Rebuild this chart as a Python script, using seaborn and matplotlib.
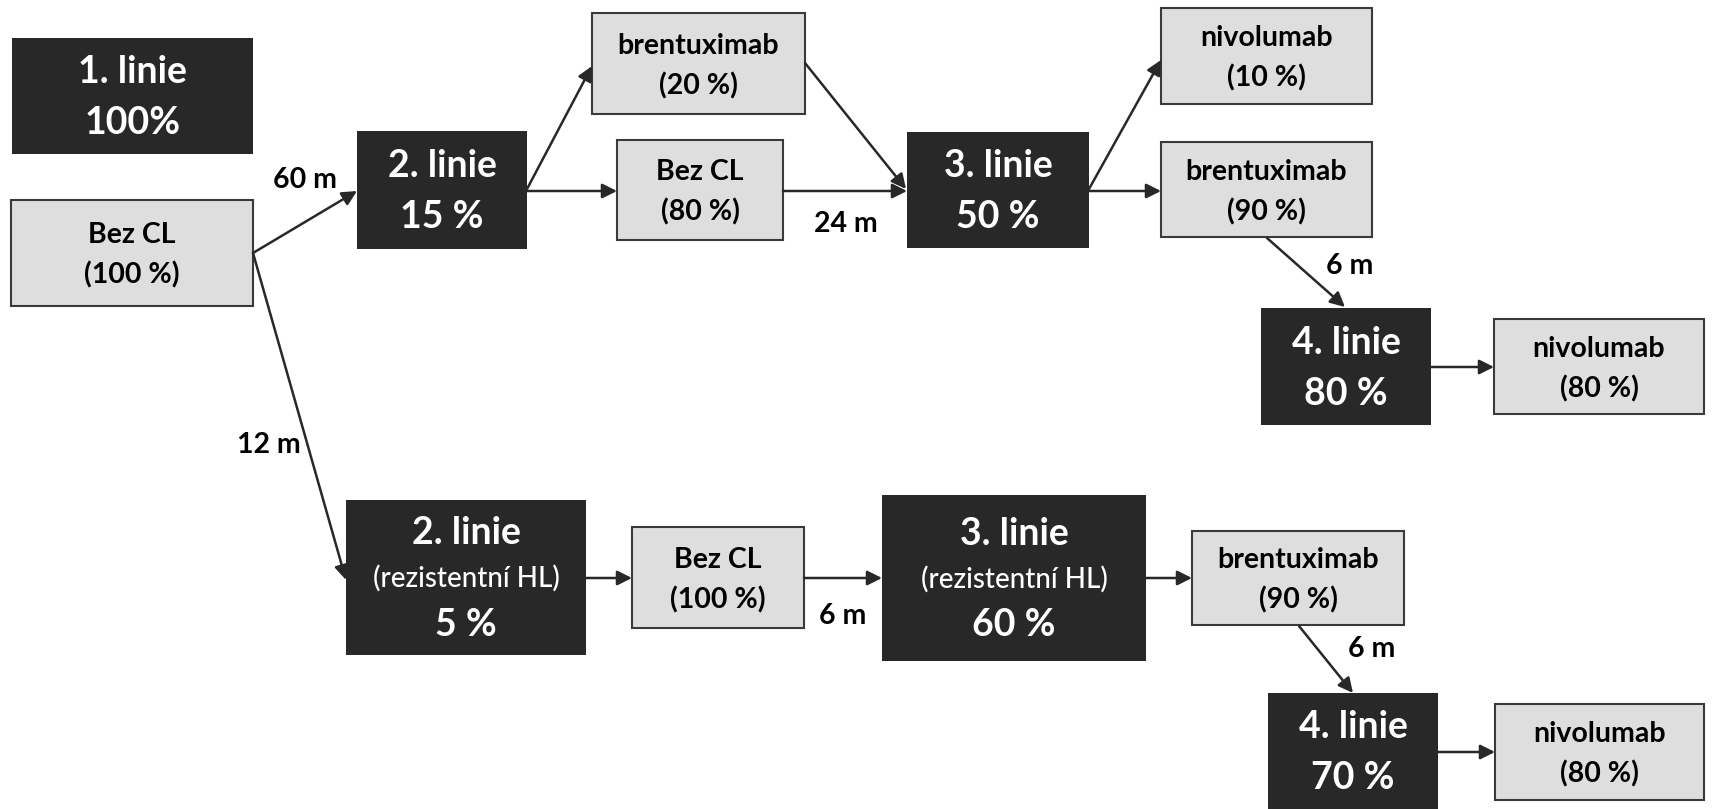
import matplotlib
matplotlib.use("Agg")
import matplotlib.pyplot as plt
import seaborn as sns
from matplotlib.patches import Rectangle

sns.set_theme(style="white")
plt.rcParams['font.family'] = ['Lato', 'DejaVu Sans']

# ---- data: node texts ----
node_ids = ["A", "B", "C", "D", "E", "F", "G", "H", "I", "J", "K", "L", "M", "N", "O", "P"]
node_titles = ["1. linie", "Bez CL", "2. linie", "brentuximab", "Bez CL", "3. linie",
               "nivolumab", "brentuximab", "4. linie", "nivolumab", "2. linie", "Bez CL",
               "3. linie", "brentuximab", "4. linie", "nivolumab"]
node_subtitles = ["", "", "", "", "", "", "", "", "", "", "(rezistentní HL)", "",
                  "(rezistentní HL)", "", "", ""]
node_values = ["100%", "(100 %)", "15 %", "(20 %)", "(80 %)", "50 %", "(10 %)", "(90 %)",
               "80 %", "(80 %)", "5 %", "(100 %)", "60 %", "(90 %)", "70 %", "(80 %)"]
node_kind = ["line", "drug", "line", "drug", "drug", "line", "drug", "drug", "line", "drug",
             "line", "drug", "line", "drug", "line", "drug"]

edge_from = ["B", "B", "C", "C", "D", "E", "F", "F", "H", "I", "K", "L", "M", "N", "O"]
edge_to = ["C", "K", "D", "E", "F", "F", "G", "H", "I", "J", "L", "M", "N", "O", "P"]
edge_labels = ["60 m", "12 m", "", "", "", "24 m", "", "", "6 m", "", "", "6 m", "", "6 m", ""]

# ---- layout (pixels, origin top-left) ----
box = {  # x0, x1, y0, y1
    "A": (12, 253, 38, 154), "B": (11, 253, 200, 306), "C": (357, 527, 131, 249),
    "D": (592, 805, 13, 114), "E": (617, 783, 140, 240), "F": (907, 1089, 132, 248),
    "G": (1161, 1372, 8, 104), "H": (1161, 1372, 142, 237), "I": (1261, 1431, 308, 425),
    "J": (1494, 1704, 319, 414), "K": (346, 586, 500, 655), "L": (632, 804, 527, 628),
    "M": (882, 1146, 495, 661), "N": (1192, 1404, 531, 625), "O": (1268, 1438, 693, 809),
    "P": (1495, 1704, 704, 800),
}
edge_pts = [((253, 253), (357, 191)), ((253, 253), (346, 580)), ((527, 189), (592, 66)),
            ((527, 191), (617, 191)), ((805, 63), (906, 189)), ((783, 191), (907, 191)),
            ((1089, 189), (1161, 60)), ((1089, 191), (1161, 191)), ((1267, 238), (1345, 307)),
            ((1431, 367), (1494, 367)), ((586, 578), (632, 578)), ((804, 578), (882, 578)),
            ((1146, 578), (1192, 578)), ((1299, 626), (1353, 693)), ((1438, 752), (1495, 752))]
label_pos = [(305, 180), (269, 445), None, None, None, (846, 224), None, None, (1350, 266),
             None, None, (843, 616), None, (1372, 649), None]

DARK = "#282828"
LIGHT = "#dedede"
EDGE = "#3a3a3a"
W, H = 1712, 809

fig = plt.figure(figsize=(W / 100, H / 100), dpi=100)
ax = fig.add_axes([0, 0, 1, 1])
ax.set_xlim(0, W)
ax.set_ylim(H, 0)
ax.axis("off")

BIG = 27
SMALL = 20.5
SUB = 20

for nid, title, sub, val, kind in zip(node_ids, node_titles, node_subtitles, node_values, node_kind):
    x0, x1, y0, y1 = box[nid]
    cx, cy = (x0 + x1) / 2, (y0 + y1) / 2
    if kind == "line":
        ax.add_patch(Rectangle((x0, y0), x1 - x0, y1 - y0, facecolor=DARK, edgecolor=DARK, lw=0))
        if sub:
            ax.text(cx, cy - 44, title, ha="center", va="center", color="white", fontsize=BIG, fontweight="bold")
            ax.text(cx, cy + 1, sub, ha="center", va="center", color="white", fontsize=SUB, fontweight="medium")
            ax.text(cx, cy + 47, val, ha="center", va="center", color="white", fontsize=BIG, fontweight="bold")
        else:
            ax.text(cx, cy - 24, title, ha="center", va="center", color="white", fontsize=BIG, fontweight="bold")
            ax.text(cx, cy + 27, val, ha="center", va="center", color="white", fontsize=BIG, fontweight="bold")
    else:
        ax.add_patch(Rectangle((x0, y0), x1 - x0, y1 - y0, facecolor=LIGHT, edgecolor=EDGE, lw=1.5))
        ax.text(cx, cy - 18, title, ha="center", va="center", color="black", fontsize=SMALL, fontweight="bold")
        ax.text(cx, cy + 22, val, ha="center", va="center", color="black", fontsize=SMALL, fontweight="bold")

for (p0, p1), lab, lp in zip(edge_pts, edge_labels, label_pos):
    ax.annotate("", xy=p1, xytext=p0,
                arrowprops=dict(arrowstyle="-|>", color=DARK, lw=1.8, mutation_scale=22,
                                shrinkA=0, shrinkB=0))
    if lab:
        ax.text(lp[0], lp[1], lab, ha="center", va="center", color="black", fontsize=SMALL, fontweight="bold")

fig.savefig("out.png", dpi=100)
